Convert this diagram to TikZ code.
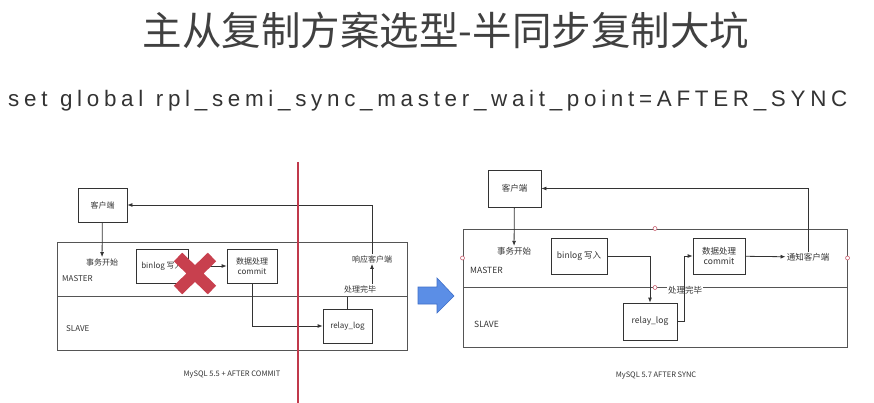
\documentclass[tikz,border=0pt]{standalone}
\usepackage{fontspec}
\setmainfont{Noto Sans CJK SC}
\newfontfamily\subfont[LetterSpace=21,WordSpace=1.15]{Liberation Sans}
\usetikzlibrary{arrows.meta}
\definecolor{linegray}{HTML}{333333}
\definecolor{lanegray}{HTML}{555555}
\definecolor{titlegray}{HTML}{404040}
\definecolor{crossred}{HTML}{C8404E}
\definecolor{cutred}{HTML}{C0394B}
\definecolor{arrowblue}{HTML}{5B8EE6}
\definecolor{arrowedge}{HTML}{3F6FC8}
\definecolor{portred}{HTML}{C86070}

\begin{document}
\begin{tikzpicture}[x=1pt,y=-1pt,>={Latex[length=5pt,width=4pt]},
  conn/.style={draw=linegray,line width=0.8pt},
  bnode/.style={draw=linegray,line width=0.8pt,inner sep=0pt,align=center,text=linegray,font=\fontsize{8}{10}\selectfont},
  lnode/.style={draw=lanegray,line width=1pt,inner sep=0pt},
  tnode/.style={inner sep=1pt,text=linegray,font=\fontsize{8}{10}\selectfont},
  port/.style={circle,draw=portred,fill=white,line width=0.6pt,inner sep=0pt,minimum size=4pt}]
  \useasboundingbox (0,0) rectangle (874,403);

  \node[text=titlegray,font=\fontsize{39.5}{42}\selectfont] (title) at (446,30) {主从复制方案选型-半同步复制大坑};
  \node[anchor=base west,inner sep=0pt,text=linegray,font=\subfont\fontsize{22.4}{26}\selectfont] (cmd) at (8,107) {set global rpl\_semi\_sync\_master\_wait\_point=AFTER\_SYNC};

  % MySQL 5.5
  \node[lnode,minimum width=350pt,minimum height=54pt] (mstL) at (232,269) {};
  \node[lnode,minimum width=350pt,minimum height=54pt] (slvL) at (232,323) {};
  \node[bnode,minimum width=49pt,minimum height=34pt] (clientL) at (102.5,205) {客户端};
  \node[bnode,minimum width=52pt,minimum height=34pt] (binlogL) at (162,266) {binlog 写入};
  \node[bnode,minimum width=50pt,minimum height=34pt] (commitL) at (252,266) {数据处理\\commit};
  \node[bnode,minimum width=49pt,minimum height=34pt] (relayL) at (347.5,326) {relay\_log};
  \node[tnode] (startL) at (102,262) {事务开始};
  \node[tnode,anchor=west] (mlabL) at (61,279) {MASTER};
  \node[tnode,anchor=west] (slabL) at (65,329) {SLAVE};
  \node[tnode] (respL) at (372,259) {响应客户端};
  \node[tnode] (doneL) at (360,289) {处理完毕};
  \node[tnode,font=\fontsize{7.5}{9}\selectfont] (capL) at (232,375) {MySQL 5.5 + AFTER COMMIT};

  \draw[conn,->] (clientL) -- (startL);
  \draw[conn,->] (binlogL) -- (commitL);
  \draw[conn,->] (commitL.south) |- (relayL.west);
  \draw[conn] (relayL.north) -- (relayL.north |- mstL.south);
  \draw[conn,->] (doneL.north -| respL.south) -- (respL.south);
  \draw[conn,->] (respL.north) |- (clientL.east);

  \draw[draw=crossred,line width=12pt] (178,257) -- (212,290) (212,257) -- (178,290);
  \draw[draw=cutred,line width=2pt] (298,162) -- (298,403);

  % blue arrow
  \draw[draw=arrowedge,fill=arrowblue,line width=0.6pt] (418,287) -- (437,287) -- (437,278) -- (454,296) -- (437,313) -- (437,304) -- (418,304) -- cycle;

  % MySQL 5.7
  \node[lnode,minimum width=384pt,minimum height=58pt] (mstR) at (655,258) {};
  \node[lnode,minimum width=384pt,minimum height=60pt] (slvR) at (655,317) {};
  \node[bnode,minimum width=53pt,minimum height=37pt,font=\fontsize{8.5}{10.5}\selectfont] (clientR) at (514.5,188.5) {客户端};
  \node[bnode,minimum width=56pt,minimum height=36pt,font=\fontsize{8.5}{10.5}\selectfont] (binlogR) at (579,256) {binlog 写入};
  \node[bnode,minimum width=52pt,minimum height=36pt,font=\fontsize{8.5}{10.5}\selectfont] (commitR) at (719,256) {数据处理\\commit};
  \node[bnode,minimum width=54pt,minimum height=37pt,font=\fontsize{8.5}{10.5}\selectfont] (relayR) at (650,321.5) {relay\_log};
  \node[tnode,font=\fontsize{8.5}{10.5}\selectfont] (startR) at (514,251) {事务开始};
  \node[tnode,anchor=west,font=\fontsize{8.5}{10.5}\selectfont] (mlabR) at (469,270) {MASTER};
  \node[tnode,anchor=west,font=\fontsize{8.5}{10.5}\selectfont] (slabR) at (473,324) {SLAVE};
  \node[tnode,font=\fontsize{8.5}{10.5}\selectfont] (notifyR) at (808,257) {通知客户端};
  \node[tnode,fill=white,font=\fontsize{8.5}{10.5}\selectfont] (doneR) at (685,290) {处理完毕};
  \node[tnode,font=\fontsize{7.5}{9}\selectfont] (capR) at (656,376) {MySQL 5.7 AFTER SYNC};

  \draw[conn,->] (clientR) -- (startR);
  \draw[conn,->] (binlogR.east) -| (relayR.north);
  \draw[conn,->] (relayR.east) -- ++(7,0) |- (commitR.west);
  \draw[conn,->] (commitR) -- (notifyR);
  \draw[conn,->] (notifyR.north) |- (clientR.east);

  \node[port] (p1) at (mstR.west) {};
  \node[port] (p2) at (mstR.east) {};
  \node[port] (p3) at (mstR.north) {};
  \node[port] (p4) at (mstR.south) {};
\end{tikzpicture}
\end{document}
